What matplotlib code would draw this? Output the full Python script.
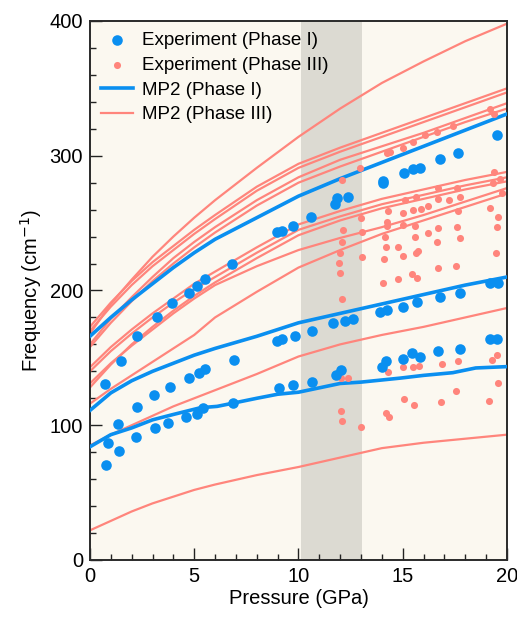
import numpy as np
import matplotlib.pyplot as plt
from matplotlib.ticker import MultipleLocator

plt.rcParams["font.family"] = ["Liberation Sans", "DejaVu Sans"]

BLUE   = "#0A8FF0"
SALMON = "#FF857C"
BG     = "#FBF8F0"
SHADE  = "#DCDAD2"

# ── MP2 curves ─────────────────────────────────────────────────────────────────
p_grid = [0, 1, 2, 3, 4, 5, 6, 8, 10, 12, 14, 16, 18, 20]

# Phase I
mp2_i_top = [166, 180, 193, 205, 217, 228, 238, 254, 270, 283, 295, 307, 319, 331]
mp2_i_mid = [111, 124, 133, 140, 146, 152, 157, 166, 176, 183, 190, 197, 204, 210]
p_bot     = [0, 1, 2, 3, 4, 5.3, 6.1, 6.9, 8, 9, 10, 12, 13, 14.9, 16, 17.4, 18.5, 20]
mp2_i_bot = [84, 93, 98, 104, 108, 113, 114, 116.5, 120, 123, 124.5, 131, 132, 135, 137, 139, 142.5, 143.5]

# Phase III
mp2_iii_u1 = [168, 190, 208, 225, 240, 254, 267, 291, 314, 335, 354, 370, 385, 398]
mp2_iii_u2 = [173, 191, 207, 221, 233, 245, 256, 277, 294, 306, 317, 328, 339, 350]
mp2_iii_u3 = [170, 188, 204, 218, 230, 242, 253, 274, 291, 303, 314, 325, 336, 347]
mp2_iii_u4 = [160, 179, 195, 210, 224, 236, 247, 267, 284, 297, 307, 317, 328, 339]
mp2_iii_u5 = [158, 176, 192, 207, 220, 232, 243, 263, 280, 292, 303, 314, 325, 335]
mp2_iii_m1 = [143, 158, 171, 183, 194, 205, 214, 232, 249, 259, 268, 275, 282, 288]
mp2_iii_m2 = [140, 155, 168, 180, 191, 201, 210, 228, 245, 255, 264, 271, 278, 284]
mp2_iii_m3 = [128, 145, 160, 173, 185, 196, 206, 224, 241, 252, 261, 268, 275, 281]
mp2_iii_l1 = [131, 146, 159, 171, 183, 194, 204, 218, 230, 239, 247, 256, 266, 276]
mp2_iii_l2 = [116, 127, 137, 147, 157, 167, 180, 199, 217, 230, 242, 252, 262, 272]
mp2_iii_l3 = [85, 93, 100, 107, 114, 120, 126, 138, 151, 160, 167, 173, 180, 187]
mp2_iii_l4 = [22, 29, 36, 42, 47, 52, 56, 63, 69, 76, 83, 87, 90, 93]

mp2_iii = [mp2_iii_u1, mp2_iii_u2, mp2_iii_u3, mp2_iii_u4, mp2_iii_u5,
           mp2_iii_m1, mp2_iii_m2, mp2_iii_m3, mp2_iii_l1, mp2_iii_l2,
           mp2_iii_l3, mp2_iii_l4]

# ── Experiment (Phase I) ───────────────────────────────────────────────────────
exp_i_p = [0.77, 0.88, 1.41, 2.2, 3.12, 3.76, 4.6, 5.15, 5.4, 6.84, 9.08, 9.75,
           10.63, 11.8, 12.02, 13.99, 14.2, 15.03, 15.43, 15.83, 16.7, 17.75, 19.18, 19.5,
           1.36, 2.24, 3.07, 3.84, 4.77, 5.24, 5.52, 6.9, 8.95, 9.19, 9.83, 10.63,
           11.64, 12.23, 12.6, 13.9, 14.23, 15.03, 15.7, 16.79, 17.75, 19.18, 19.58,
           0.72, 1.47, 2.24, 3.2, 3.92, 4.77, 5.12, 5.52, 6.8, 8.95, 9.19, 9.75,
           10.58, 11.75, 11.86, 12.39, 14.04, 14.07, 15.06, 15.5, 15.83, 16.79, 17.63, 19.54]
exp_i_f = [70.5, 87, 81, 91.5, 97.7, 102, 106.4, 108.1, 112.6, 116.3, 127.4, 129.9,
           132.4, 137.3, 141, 143.5, 147.9, 148.9, 153.4, 150.9, 155.1, 156.4, 163.8, 163.8,
           101, 113.5, 122.4, 128.6, 134.8, 138.5, 141.7, 148.4, 162.7, 163.8, 166.5, 170.2,
           175.6, 177.6, 178.6, 184.3, 185.5, 188, 191.7, 195.4, 198.4, 205.8, 205.8,
           130.6, 148, 166, 180, 190.5, 198.4, 203.3, 208.3, 219.7, 243.6, 244.2, 247.9,
           254.3, 264.2, 268.4, 269.2, 279.5, 281.5, 287, 290, 290.7, 297.4, 302.3, 315.4]

# ── Experiment (Phase III) ─────────────────────────────────────────────────────
exp_iii_p = [12.07, 12.95, 14.23, 14.39, 15.03, 15.5, 16.07, 16.63, 17.4, 19.18, 19.4,
             12.15, 12.98, 13.03, 12.07, 11.99, 11.96, 11.99, 13.03, 12.07,
             19.38, 19.66, 19.34, 19.74, 17.59, 17.75, 17.23, 16.71, 16.71, 16.23, 15.9,
             15.5, 15.64, 15.11, 15.03, 14.31, 14.23, 14.23, 15.03, 15.59, 16.23, 16.71,
             17.59, 17.75, 16.63, 15.59, 14.15, 14.2, 14.79, 15.72, 15.64, 15.0, 14.11,
             16.71, 17.55, 15.43, 15.67, 14.79, 14.07, 19.18, 19.58, 19.54, 19.47, 17.67,
             12.02, 12.39, 12.02, 12.07, 12.98, 14.31, 15.03, 15.5, 15.79, 16.87, 17.63,
             19.26, 19.54, 19.58, 19.15, 17.54, 16.82, 15.54, 15.06, 14.2, 14.36]
exp_iii_f = [282, 290.7, 301.8, 303, 305.5, 310.4, 315.4, 317.9, 322, 334.5, 331,
             244.9, 253.6, 243.7, 236.2, 227.6, 220.2, 212.8, 225.1, 193.4,
             288.2, 282.5, 279.5, 272, 275.8, 269.2, 267.2, 267.7, 275.8, 262.9, 260.3,
             259.7, 269.2, 267.2, 257.2, 259.2, 251.1, 247.9, 248.6, 247.9, 242.9, 246.2,
             246.9, 239.2, 236.2, 239.5, 239.5, 232.5, 232.5, 229.6, 227.6, 225.6, 223.1,
             216.4, 218.2, 212.3, 209, 208.3, 205.3, 261, 254.8, 247.4, 227.6, 259.2,
             134.8, 134.8, 110.8, 103.4, 98.9, 139.8, 143, 143, 144.2, 145.2, 147.9,
             148.4, 152.1, 131.6, 118.2, 125.6, 117.5, 115, 119.5, 109.3, 105.9]

phase_iii_span = (10.12, 13.05)

fig = plt.figure(figsize=(5.17, 6.17), dpi=100)
ax = fig.add_axes([0.174, 0.0924, 0.8066, 0.8736])
ax.set_facecolor(BG)
fig.patch.set_facecolor("white")

ax.axvspan(*phase_iii_span, color=SHADE, zorder=0, lw=0)

for i, line in enumerate(mp2_iii):
    ax.plot(p_grid, line, color=SALMON, lw=1.6, zorder=2,
            label="MP2 (Phase III)" if i == 0 else None)
ax.plot(p_grid, mp2_i_top, color=BLUE, lw=2.6, zorder=3, label="MP2 (Phase I)")
ax.plot(p_grid, mp2_i_mid, color=BLUE, lw=2.6, zorder=3)
ax.plot(p_bot, mp2_i_bot, color=BLUE, lw=2.6, zorder=3)

ax.scatter(exp_iii_p, exp_iii_f, s=26, color=SALMON, lw=0, zorder=4,
           label="Experiment (Phase III)")
ax.scatter(exp_i_p, exp_i_f, s=58, color=BLUE, lw=0, zorder=5,
           label="Experiment (Phase I)")

ax.set_xlim(0, 20)
ax.set_ylim(0, 400)
ax.xaxis.set_major_locator(MultipleLocator(5))
ax.xaxis.set_minor_locator(MultipleLocator(1))
ax.yaxis.set_major_locator(MultipleLocator(100))
ax.yaxis.set_minor_locator(MultipleLocator(20))
ax.tick_params(which="both", direction="in", top=False, right=False,
               labelsize=14.5, color="#222222", pad=5)
ax.tick_params(which="major", length=8.5, width=1.0)
ax.tick_params(which="minor", length=4.3, width=1.0)
for s in ax.spines.values():
    s.set_linewidth(1.4)
    s.set_color("#2a2a2a")

ax.set_xlabel("Pressure (GPa)", fontsize=14.5, labelpad=2)
ax.set_ylabel("Frequency (cm$^{-1}$)", fontsize=14.5, labelpad=4)

handles, labels = ax.get_legend_handles_labels()
order = ["Experiment (Phase I)", "Experiment (Phase III)", "MP2 (Phase I)", "MP2 (Phase III)"]
hmap = dict(zip(labels, handles))
ax.legend([hmap[k] for k in order], order, loc="upper left", frameon=False,
          fontsize=13.5, handlelength=1.7, handletextpad=0.45, labelspacing=0.4,
          borderaxespad=0.2, bbox_to_anchor=(0.0, 1.0))

fig.savefig("out.png", dpi=100)
